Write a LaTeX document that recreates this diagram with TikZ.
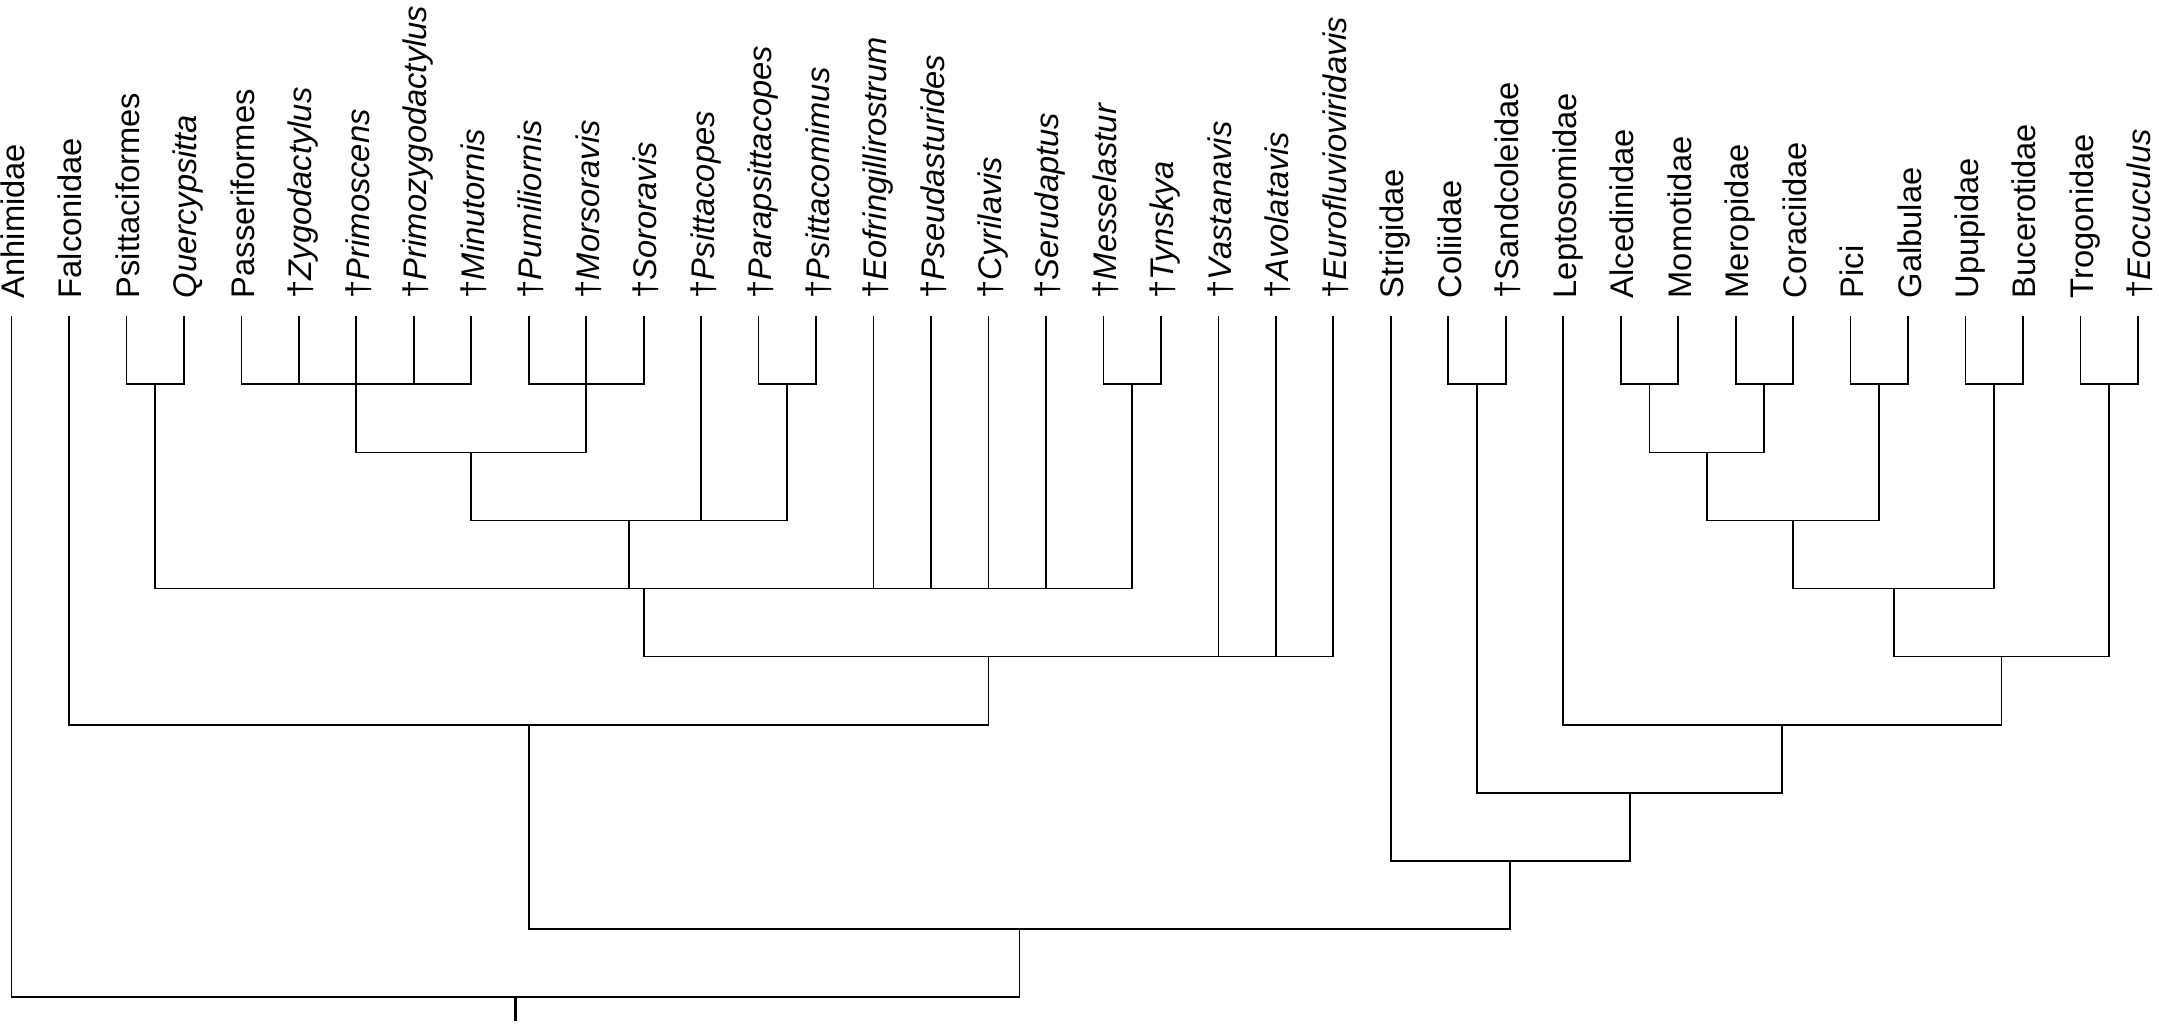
\documentclass[tikz,border=0pt]{standalone}
\usepackage{fontspec}
\setmainfont{Liberation Sans}
\usepackage{tikz}
\newcommand{\fossil}[1]{\textdagger\textit{#1}}
\newcommand{\leafx}[1]{11.5+(#1-1)*57.47}

\begin{document}
\begin{tikzpicture}[
    x=0.1mm,
    y=-0.1mm,
    font=\fontsize{9.3pt}{10pt}\selectfont,
    taxon/.style={
        rotate=90,
        anchor=base west,
        inner sep=0pt
    },
    branch/.style={
        draw=black,
        line width=0.5pt
    }
]

\useasboundingbox (0,0) rectangle (2160,1024);

\foreach \tag/\txt [count=\i] in {
    anhimidae/Anhimidae,
    falconidae/Falconidae,
    psittaciformes/Psittaciformes,
    quercypsitta/\textit{Quercypsitta},
    passeriformes/Passeriformes,
    zygodactylus/\fossil{Zygodactylus},
    primoscens/\fossil{Primoscens},
    primozygodactylus/\fossil{Primozygodactylus},
    minutornis/\fossil{Minutornis},
    pumiliornis/\fossil{Pumiliornis},
    morsoravis/\fossil{Morsoravis},
    sororavis/\fossil{Sororavis},
    psittacopes/\fossil{Psittacopes},
    parapsittacopes/\fossil{Parapsittacopes},
    psittacomimus/\fossil{Psittacomimus},
    eofringillirostrum/\fossil{Eofringillirostrum},
    pseudasturides/\fossil{Pseudasturides},
    cyrilavis/\fossil{Cyrilavis},
    serudaptus/\fossil{Serudaptus},
    messelastur/\fossil{Messelastur},
    tynskya/\fossil{Tynskya},
    vastanavis/\fossil{Vastanavis},
    avolatavis/\fossil{Avolatavis},
    eurofluvioviridavis/\fossil{Eurofluvioviridavis},
    strigidae/Strigidae,
    coliidae/Coliidae,
    sandcoleidae/{\textdagger}Sandcoleidae,
    leptosomidae/Leptosomidae,
    alcedinidae/Alcedinidae,
    momotidae/Momotidae,
    meropidae/Meropidae,
    coraciidae/Coraciidae,
    pici/Pici,
    galbulae/Galbulae,
    upupidae/Upupidae,
    bucerotidae/Bucerotidae,
    trogonidae/Trogonidae,
    eocuculus/\fossil{Eocuculus}%
}{
    \coordinate (\tag-top) at ({\leafx{\i}},315.7);
    \node[taxon] (\tag) at ({\leafx{\i}+13},299) {\txt};
}

% clade nodes, level by level
\coordinate (psq) at ({\leafx{3.5}},384.3);
\coordinate (pas) at ({\leafx{7}},384.3);
\coordinate (pum) at ({\leafx{11}},384.3);
\coordinate (par) at ({\leafx{14.5}},384.3);
\coordinate (mes) at ({\leafx{20.5}},384.3);
\coordinate (col) at ({\leafx{26.5}},384.3);
\coordinate (alc) at ({\leafx{29.5}},384.3);
\coordinate (mer) at ({\leafx{31.5}},384.3);
\coordinate (pic) at ({\leafx{33.5}},384.3);
\coordinate (upu) at ({\leafx{35.5}},384.3);
\coordinate (tro) at ({\leafx{37.5}},384.3);

\coordinate (pp) at ({\leafx{9}},452.4);
\coordinate (cor) at ({\leafx{30.5}},452.4);

\coordinate (ppp) at ({\leafx{11.75}},520.5);
\coordinate (cp) at ({\leafx{32}},520.5);

\coordinate (big) at ({\leafx{12}},588.5);
\coordinate (cpu) at ({\leafx{33.75}},588.5);

\coordinate (fos) at ({\leafx{18}},656.6);
\coordinate (ctr) at ({\leafx{35.625}},656.6);

\coordinate (fal) at ({\leafx{10}},724.7);
\coordinate (lep) at ({\leafx{31.8125}},724.7);

\coordinate (clp) at ({\leafx{29.15625}},792.8);
\coordinate (str) at ({\leafx{27.078125}},860.9);
\coordinate (ter) at ({\leafx{18.5390625}},929.0);
\coordinate (root) at ({\leafx{9.76953125}},997.0);
\coordinate (stub) at ({\leafx{9.76953125}},1021);

\foreach \c/\p in {
    psittaciformes-top/psq, quercypsitta-top/psq,
    passeriformes-top/pas, zygodactylus-top/pas, primoscens-top/pas,
    primozygodactylus-top/pas, minutornis-top/pas,
    pumiliornis-top/pum, morsoravis-top/pum, sororavis-top/pum,
    parapsittacopes-top/par, psittacomimus-top/par,
    messelastur-top/mes, tynskya-top/mes,
    coliidae-top/col, sandcoleidae-top/col,
    alcedinidae-top/alc, momotidae-top/alc,
    meropidae-top/mer, coraciidae-top/mer,
    pici-top/pic, galbulae-top/pic,
    upupidae-top/upu, bucerotidae-top/upu,
    trogonidae-top/tro, eocuculus-top/tro,
    pas/pp, pum/pp,
    alc/cor, mer/cor,
    pp/ppp, psittacopes-top/ppp, par/ppp,
    cor/cp, pic/cp,
    psq/big, ppp/big, eofringillirostrum-top/big, pseudasturides-top/big,
    cyrilavis-top/big, serudaptus-top/big, mes/big,
    cp/cpu, upu/cpu,
    big/fos, vastanavis-top/fos, avolatavis-top/fos, eurofluvioviridavis-top/fos,
    cpu/ctr, tro/ctr,
    falconidae-top/fal, fos/fal,
    leptosomidae-top/lep, ctr/lep,
    col/clp, lep/clp,
    strigidae-top/str, clp/str,
    fal/ter, str/ter,
    anhimidae-top/root, ter/root%
}{
    \draw[branch] (\c) |- (\p);
}

\draw[branch,line width=0.7pt] (root)--(stub);

\end{tikzpicture}
\end{document}
